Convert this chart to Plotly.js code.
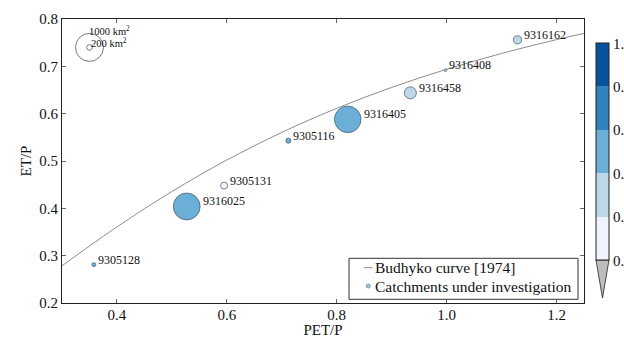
<!DOCTYPE html>
<html>
<head>
<meta charset="utf-8">
<script src="https://cdn.plot.ly/plotly-3.0.1.min.js"></script>
<style>html,body{margin:0;padding:0;background:#fff;}#chart{width:624px;height:338px;}</style>
</head>
<body>
<div id="chart"></div>
<script>
// ---- data ----
const catchmentIds = ['9305128','9316025','9305131','9305116','9316405','9316458','9316408','9316162'];
const petOverP     = [0.358, 0.527, 0.595, 0.712, 0.820, 0.934, 0.998, 1.129];
const etOverP      = [0.281, 0.404, 0.448, 0.543, 0.588, 0.644, 0.692, 0.756];
const areaKm2      = [140, 960, 250, 180, 950, 430, 100, 290];
const colorValue   = [0.5, 0.5, 0.1, 0.5, 0.5, 0.3, 0.3, 0.3];

const budykoPhi = [0.30, 0.35, 0.40, 0.45, 0.50, 0.55, 0.60, 0.70, 0.80, 0.90, 1.00, 1.10, 1.20, 1.25];
const budykoET  = [0.2785, 0.3204, 0.3607, 0.3991, 0.4355, 0.4698, 0.5021, 0.5604, 0.6113, 0.6555, 0.6938, 0.7272, 0.7564, 0.7696];

const sizeLegendAreas  = [1000, 200];
const sizeLegendLabels = ['1000 km<sup>2</sup>', '200 km<sup>2</sup>'];

const legendNames = ['Budhyko curve [1974]', 'Catchments under investigation'];

const xTicks = [0.4, 0.6, 0.8, 1.0, 1.2];
const yTicks = [0.2, 0.3, 0.4, 0.5, 0.6, 0.7, 0.8];
const cbTicks = [0.0, 0.2, 0.4, 0.6, 0.8, 1.0];

// ---- styling ----
const SERIF = '"Liberation Serif", "DejaVu Serif", serif';
const PX_PER_KM2 = 0.028;
const sizeOf = a => a * PX_PER_KM2;
const blues = ['#eff3ff', '#bdd7e7', '#6baed6', '#3182bd', '#08519c'];
const colorscale = [];
blues.forEach((c, i) => { colorscale.push([i / 5, c]); colorscale.push([(i + 1) / 5, c]); });

// plot-area pixel geometry -> paper coordinates (for decorations only)
const PL = 62, PW = 522, PB = 303, PH = 284;
const px = v => (v - PL) / PW;
const py = v => (PB - v) / PH;

const traces = [
  {
    x: budykoPhi, y: budykoET, type: 'scatter', mode: 'lines',
    line: {color: '#7f7f7f', width: 0.9, shape: 'spline'},
    name: legendNames[0], hoverinfo: 'skip', showlegend: false
  },
  {
    x: petOverP, y: etOverP, type: 'scatter', mode: 'markers', showlegend: false,
    name: legendNames[1], text: catchmentIds,
    marker: {
      size: areaKm2.map(sizeOf), color: colorValue, colorscale: colorscale,
      cmin: 0, cmax: 1, showscale: true, opacity: 1,
      line: {color: '#3d5570', width: 0.7},
      colorbar: {
        x: px(596), xanchor: 'left', xpad: 0,
        y: py(43.3), yanchor: 'top', ypad: 0,
        len: 216.7 / PH, lenmode: 'fraction', thickness: 13,
        outlinecolor: '#222', outlinewidth: 1,
        tickvals: cbTicks, ticktext: cbTicks.map(v => v.toFixed(1)),
        ticks: '', tickfont: {family: SERIF, size: 15, color: '#111'}
      }
    }
  },
  {
    x: sizeLegendAreas.map(() => 0.35), y: sizeLegendAreas.map(() => 0.74),
    type: 'scatter', mode: 'markers', showlegend: false, hoverinfo: 'skip',
    marker: {size: sizeLegendAreas.map(sizeOf), opacity: 1, color: 'rgba(255,255,255,0)', line: {color: '#555', width: 0.8}}
  }
];

const annotations = catchmentIds.map((id, i) => ({
  x: petOverP[i], y: etOverP[i], xref: 'x', yref: 'y', text: id, showarrow: false,
  xanchor: 'left', yanchor: 'bottom', xshift: sizeOf(areaKm2[i]) / 2 + 0.5, yshift: -4,
  font: {family: SERIF, size: 12, color: '#111'}
}));
sizeLegendLabels.forEach((t, i) => {
  annotations.push({
    x: 0.35, y: 0.74, xref: 'x', yref: 'y', text: t, showarrow: false,
    xanchor: 'left', yanchor: 'middle', xshift: i === 0 ? -2 : 0, yshift: i === 0 ? 17 : 5,
    font: {family: SERIF, size: 10.5, color: '#111'}
  });
});
// custom legend texts
const legendRowY = [267.7, 286];
legendNames.forEach((t, i) => {
  annotations.push({
    x: px(374), y: py(legendRowY[i]), xref: 'paper', yref: 'paper', text: t, showarrow: false,
    xanchor: 'left', yanchor: 'middle', borderpad: 0,
    font: {family: SERIF, size: 15.5, color: '#111'}
  });
});

const axisCommon = {
  showgrid: false, zeroline: false, showline: true, linecolor: '#222', linewidth: 1,
  mirror: 'ticks', ticks: 'inside', ticklen: 4, tickcolor: '#444', tickwidth: 0.8,
  tickfont: {family: SERIF, size: 15, color: '#111'}
};

const shapes = [
  // colorbar "under" extension triangle
  {
    type: 'path', xref: 'paper', yref: 'paper', layer: 'above',
    path: 'M ' + px(596) + ' ' + py(260) + ' L ' + px(609) + ' ' + py(260) +
          ' L ' + px(602.5) + ' ' + py(298) + ' Z',
    fillcolor: '#bdbdbd', line: {color: '#222', width: 0.8}
  },
  // legend box
  {
    type: 'rect', xref: 'paper', yref: 'paper', layer: 'above',
    x0: px(349), x1: px(578), y0: py(299.3), y1: py(258.3),
    fillcolor: '#fff', line: {color: '#333', width: 1}
  },
  // legend line sample
  {
    type: 'line', xref: 'paper', yref: 'paper', layer: 'above',
    x0: px(364), x1: px(372.5), y0: py(legendRowY[0]), y1: py(legendRowY[0]),
    line: {color: '#7f7f7f', width: 0.9}
  },
  // legend marker sample
  {
    type: 'circle', xref: 'paper', yref: 'paper', layer: 'above',
    x0: px(366.3), x1: px(370.3), y0: py(legendRowY[1] + 2), y1: py(legendRowY[1] - 2),
    fillcolor: '#9ecae1', line: {color: '#4a6b8a', width: 0.6}
  }
];

const layout = {
  width: 624, height: 338,
  margin: {l: PL, r: 624 - PL - PW, t: 19, b: 338 - PB, pad: 0, autoexpand: false},
  paper_bgcolor: '#fff', plot_bgcolor: '#fff',
  font: {family: SERIF, color: '#111'},
  showlegend: false,
  xaxis: Object.assign({}, axisCommon, {
    range: [0.3, 1.25], tickvals: xTicks, ticktext: xTicks.map(v => v.toFixed(1)),
    ticklabelstandoff: -2,
    title: {text: 'PET/P', font: {family: SERIF, size: 15}, standoff: 2}
  }),
  yaxis: Object.assign({}, axisCommon, {
    range: [0.2, 0.8], tickvals: yTicks, ticktext: yTicks.map(v => v.toFixed(1)),
    title: {text: 'ET/P', font: {family: SERIF, size: 15}, standoff: 4}
  }),
  annotations: annotations,
  shapes: shapes
};

Plotly.newPlot('chart', traces, layout, {displayModeBar: false, staticPlot: true});
</script>
</body>
</html>
